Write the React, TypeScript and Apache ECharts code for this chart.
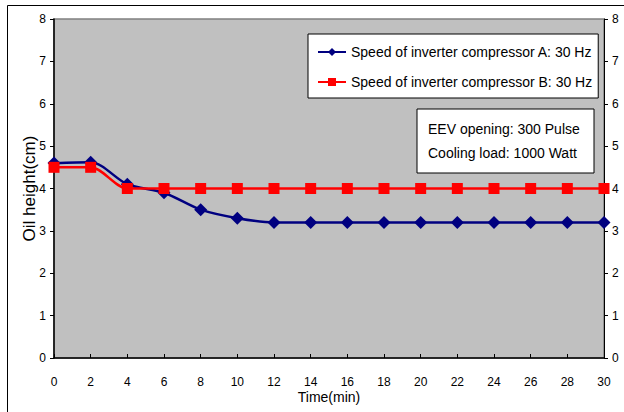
import React, { useEffect, useRef } from "react";
import * as echarts from "echarts";

const times = [0, 2, 4, 6, 8, 10, 12, 14, 16, 18, 20, 22, 24, 26, 28, 30];
const seriesA = [4.6, 4.62, 4.1, 3.9, 3.5, 3.3, 3.2, 3.2, 3.2, 3.2, 3.2, 3.2, 3.2, 3.2, 3.2, 3.2];
const seriesB = [4.5, 4.5, 4.0, 4.0, 4.0, 4.0, 4.0, 4.0, 4.0, 4.0, 4.0, 4.0, 4.0, 4.0, 4.0, 4.0];
const nameA = "Speed of inverter compressor A: 30 Hz";
const nameB = "Speed of inverter compressor B: 30 Hz";
const noteLines = ["EEV opening: 300 Pulse", "Cooling load: 1000 Watt"];

const FONT = "Liberation Sans, Arial, sans-serif";

export default function App() {
  const ref = useRef<HTMLDivElement>(null);
  useEffect(() => {
    if (!ref.current) return;
    const chart = echarts.init(ref.current, null, { renderer: "svg" });
    const yAxisBase = {
      type: "value",
      min: 0,
      max: 8,
      interval: 1,
      splitLine: { show: false },
      axisLine: { show: true, lineStyle: { color: "#000", width: 1.5 } },
      axisTick: { show: true, length: 4, lineStyle: { color: "#000" } },
      axisLabel: { color: "#000", fontSize: 12, fontFamily: FONT, margin: 8 },
    };
    chart.setOption({
      animation: false,
      backgroundColor: "#fff",
      textStyle: { fontFamily: FONT },
      grid: {
        left: 54,
        right: 20,
        top: 19,
        bottom: 54,
        show: true,
        backgroundColor: "#C0C0C0",
        borderColor: "#808080",
        borderWidth: 1.5,
      },
      legend: {
        left: 308,
        top: 34,
        orient: "vertical",
        backgroundColor: "#fff",
        borderColor: "#000",
        borderWidth: 1,
        padding: [10, 6, 8, 9],
        itemGap: 14,
        itemWidth: 28,
        itemHeight: 10,
        textStyle: { fontSize: 14, color: "#000", fontFamily: FONT, lineHeight: 16 },
        data: [nameA, nameB],
      },
      xAxis: {
        type: "value",
        min: 0,
        max: 30,
        interval: 2,
        name: "Time(min)",
        nameLocation: "middle",
        nameGap: 32,
        nameMoveOverlap: false,
        nameTextStyle: { color: "#000", fontSize: 14, fontFamily: FONT },
        splitLine: { show: false },
        axisLine: { show: true, onZero: false, lineStyle: { color: "#000", width: 1.5 } },
        axisTick: { show: true, inside: true, length: 4, lineStyle: { color: "#000" } },
        axisLabel: { color: "#000", fontSize: 12, fontFamily: FONT, margin: 18 },
      },
      yAxis: [
        {
          ...yAxisBase,
          position: "left",
          name: "Oil height(cm)",
          nameLocation: "middle",
          nameGap: 16,
          nameMoveOverlap: false,
          nameRotate: 90,
          nameTextStyle: { color: "#000", fontSize: 17, fontFamily: FONT },
        },
        {
          ...yAxisBase,
          position: "right",
          axisLine: { show: true, lineStyle: { color: "#000", width: 1 } },
        },
      ],
      graphic: [
        {
          type: "polyline",
          shape: { points: [[7.5, 420], [7.5, 5.5], [630, 5.5]] },
          style: { fill: null, stroke: "#000", lineWidth: 1 },
          silent: true,
          z: 20,
        },
        {
          type: "rect",
          shape: { x: 417, y: 109, width: 177, height: 64 },
          style: { fill: "#fff", stroke: "#000", lineWidth: 1 },
          z: 10,
        },
        {
          type: "text",
          x: 428,
          y: 117,
          style: {
            text: noteLines.join("\n"),
            fontSize: 14,
            lineHeight: 24,
            fill: "#000",
            fontFamily: FONT,
          },
          z: 11,
        },
      ],
      series: [
        {
          name: nameA,
          type: "line",
          smooth: 0.3,
          data: times.map((t, i) => [t, seriesA[i]]),
          symbol: "diamond",
          symbolSize: 13,
          itemStyle: { color: "#000080" },
          lineStyle: { color: "#000080", width: 2.5 },
          z: 3,
        },
        {
          name: nameB,
          type: "line",
          smooth: 0.3,
          data: times.map((t, i) => [t, seriesB[i]]),
          symbol: "rect",
          symbolSize: 11,
          itemStyle: { color: "#FF0000" },
          lineStyle: { color: "#FF0000", width: 2.5 },
          z: 4,
        },
      ],
    });
    return () => chart.dispose();
  }, []);
  return (
    <div
      ref={ref}
      style={{ position: "fixed", left: 0, top: 0, width: 624, height: 412, background: "#fff" }}
    />
  );
}
